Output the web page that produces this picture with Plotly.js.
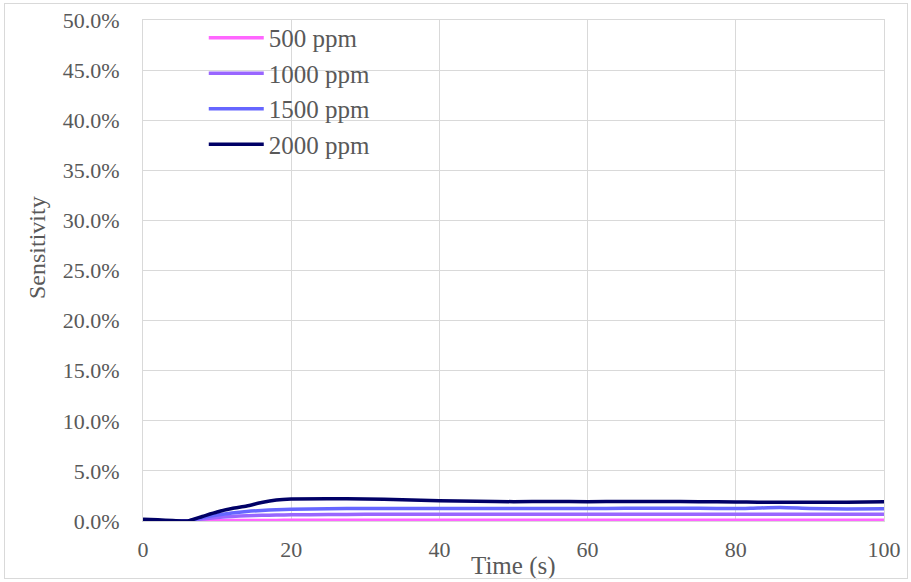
<!DOCTYPE html>
<html>
<head>
<meta charset="utf-8">
<script src="https://cdn.plot.ly/plotly-3.0.1.min.js"></script>
<style>
  html, body { margin: 0; padding: 0; background: #ffffff; }
  #wrap { position: relative; width: 911px; height: 582px; }
  #chart { width: 911px; height: 582px; }
  #frame { position: absolute; left: 4px; top: 3px; width: 902px; height: 574px;
           border: 1px solid #d9d9d9; pointer-events: none; }
</style>
</head>
<body>
<div id="wrap">
  <div id="chart"></div>
  <div id="frame"></div>
</div>
<script>
// Sensor response over time for four gas concentrations (sensitivity in %)
const time = [0, 2, 4, 6, 8, 10, 12, 14, 16, 18, 20, 25, 30, 35, 40, 45, 50, 55, 60, 65, 70, 75, 80, 83, 86, 90, 95, 100];

const s500  = [0.00, 0.00, 0.00, 0.00, 0.01, 0.03, 0.04, 0.05, 0.06, 0.06, 0.07, 0.07, 0.07, 0.07, 0.07, 0.07, 0.07, 0.07, 0.07, 0.07, 0.07, 0.07, 0.07, 0.07, 0.07, 0.07, 0.07, 0.07];
const s1000 = [0.00, 0.00, 0.00, 0.00, 0.20, 0.35, 0.45, 0.52, 0.57, 0.60, 0.62, 0.65, 0.67, 0.67, 0.67, 0.67, 0.67, 0.67, 0.67, 0.68, 0.68, 0.67, 0.67, 0.67, 0.67, 0.67, 0.67, 0.67];
const s1500 = [0.05, 0.03, 0.01, 0.00, 0.35, 0.60, 0.80, 0.95, 1.05, 1.12, 1.17, 1.22, 1.25, 1.25, 1.25, 1.25, 1.25, 1.25, 1.25, 1.26, 1.26, 1.26, 1.24, 1.30, 1.34, 1.25, 1.20, 1.22];
const s2000 = [0.18, 0.12, 0.05, 0.00, 0.45, 0.90, 1.25, 1.50, 1.85, 2.10, 2.20, 2.22, 2.20, 2.12, 2.02, 1.97, 1.93, 1.95, 1.93, 1.95, 1.95, 1.92, 1.90, 1.88, 1.87, 1.87, 1.88, 1.92];

const seriesNames  = ['500 ppm', '1000 ppm', '1500 ppm', '2000 ppm'];
const seriesColors = ['#ff66ff', '#9966ff', '#6666ff', '#000066'];
const seriesValues = [s500, s1000, s1500, s2000];

const xTicks = [0, 20, 40, 60, 80, 100];
const yTicks = [0, 5, 10, 15, 20, 25, 30, 35, 40, 45, 50];

const FONT = 'Liberation Serif, Times New Roman, serif';
const GREY = '#595959';
const GRID = '#d9d9d9';

const traces = seriesValues.map((vals, i) => ({
  x: time,
  y: vals,
  name: seriesNames[i],
  type: 'scatter',
  mode: 'lines',
  line: { color: seriesColors[i], width: 3.5, shape: 'spline', smoothing: 0.6 },
  hoverinfo: 'x+y+name'
}));

const layout = {
  width: 911,
  height: 582,
  margin: { l: 143, r: 27, t: 20, b: 61 },
  paper_bgcolor: '#ffffff',
  plot_bgcolor: '#ffffff',
  font: { family: FONT, color: GREY, size: 22 },
  showlegend: true,
  legend: {
    x: 0.082, y: 1.01, xanchor: 'left', yanchor: 'top',
    bgcolor: 'rgba(0,0,0,0)',
    font: { family: FONT, size: 25, color: GREY },
    itemwidth: 55,
    tracegroupgap: 0
  },
  xaxis: {
    range: [0, 100],
    tickvals: xTicks,
    ticktext: xTicks.map(String),
    showgrid: true, gridcolor: GRID, gridwidth: 1,
    zeroline: false,
    showline: true, linecolor: GRID, linewidth: 1, mirror: true,
    ticks: '',
    ticklabelstandoff: 9,
    tickfont: { family: FONT, size: 22, color: GREY }
  },
  yaxis: {
    range: [0, 50],
    tickvals: yTicks,
    ticktext: yTicks.map(v => v.toFixed(1) + '%'),
    showgrid: true, gridcolor: GRID, gridwidth: 1,
    zeroline: false,
    showline: true, linecolor: GRID, linewidth: 1, mirror: true,
    ticks: '',
    ticklabelstandoff: 18,
    tickfont: { family: FONT, size: 22, color: GREY }
  },
  annotations: [
    {
      text: 'Time (s)', xref: 'paper', yref: 'paper',
      x: 0.5, y: -0.09, xanchor: 'center', yanchor: 'middle',
      showarrow: false, font: { family: FONT, size: 25, color: GREY }
    },
    {
      text: 'Sensitivity', xref: 'paper', yref: 'paper',
      x: -0.143, y: 0.545, xanchor: 'center', yanchor: 'middle',
      textangle: -90,
      showarrow: false, font: { family: FONT, size: 24, color: GREY }
    }
  ]
};

Plotly.newPlot('chart', traces, layout, { displayModeBar: false, staticPlot: true });
</script>
</body>
</html>
